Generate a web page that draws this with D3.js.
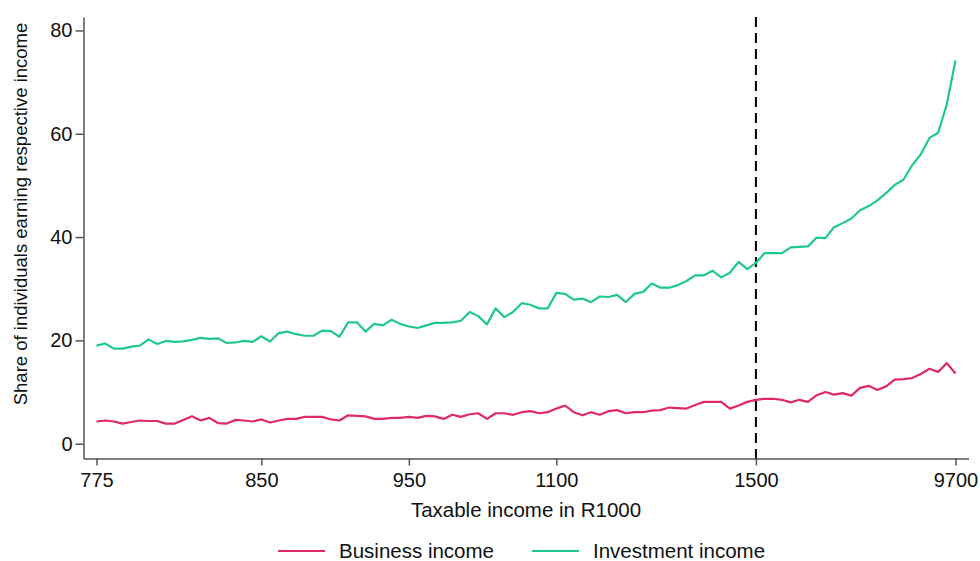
<!DOCTYPE html>
<html>
<head>
<meta charset="utf-8">
<script src="https://cdn.jsdelivr.net/npm/d3@7"></script>
<style>
  body { margin: 0; background: #fff; }
  text { font-family: "Liberation Sans", Arial, sans-serif; fill: #111; }
</style>
</head>
<body>
<div class="myChart"></div>
<script>
// 100 income bins
var business = [4.3,4.5,4.3,3.9,4.2,4.5,4.4,4.4,3.9,3.9,
                4.6,5.3,4.5,5.0,4.0,3.9,4.6,4.5,4.3,4.7,
                4.1,4.5,4.8,4.8,5.2,5.2,5.2,4.7,4.5,5.5,
                5.4,5.3,4.8,4.8,5.0,5.0,5.2,5.0,5.4,5.3,
                4.8,5.6,5.2,5.7,5.9,4.8,5.9,5.9,5.6,6.1,
                6.3,5.9,6.1,6.8,7.4,6.1,5.5,6.1,5.6,6.3,
                6.5,5.9,6.1,6.1,6.4,6.5,7.0,6.9,6.8,7.5,
                8.1,8.1,8.1,6.8,7.4,8.1,8.5,8.7,8.7,8.5,
                8.0,8.5,8.1,9.4,10.0,9.5,9.8,9.3,10.8,11.2,
                10.4,11.1,12.4,12.5,12.7,13.5,14.5,13.9,15.6,13.6];

var investment = [19.0,19.4,18.4,18.4,18.8,19.0,20.2,19.3,19.9,19.7,
                  19.8,20.1,20.5,20.3,20.4,19.5,19.6,19.9,19.7,20.8,
                  19.8,21.4,21.7,21.2,20.9,20.9,21.9,21.8,20.7,23.5,
                  23.5,21.7,23.2,22.9,24.0,23.2,22.7,22.4,22.9,23.4,
                  23.4,23.5,23.8,25.5,24.7,23.1,26.2,24.5,25.5,27.2,
                  26.9,26.2,26.2,29.2,29.0,27.9,28.1,27.4,28.5,28.4,
                  28.8,27.4,29.0,29.4,31.0,30.2,30.2,30.7,31.5,32.6,
                  32.6,33.5,32.2,33.1,35.2,33.8,35.0,36.9,36.9,36.9,
                  38.0,38.1,38.2,39.9,39.8,41.9,42.7,43.6,45.2,46.0,
                  47.1,48.5,50.1,51.1,53.9,56.0,59.2,60.2,65.7,74.2];

var tickBins = [0, 19, 36, 53, 76, 99];
var tickLabels = ["775", "850", "950", "1100", "1500", "9700"];
var yTicks = [0, 20, 40, 60, 80];
var cutoffBin = 76;

var seriesNames = ["Business income", "Investment income"];
var seriesColors = ["#e0286e", "#20c98b"];

var width = 980, height = 561;

var svg = d3.select(".myChart").append("svg").attr("width", width).attr("height", height);

var x = d3.scaleLinear().domain([-1.5, 100.5]).range([83.5, 968.5]);
var y = d3.scaleLinear().domain([-2.86, 82.6]).range([458.5, 17]);

// axes
var xAxis = svg.append("g").attr("transform", "translate(0,458.5)")
    .call(d3.axisBottom(x).tickValues(tickBins).tickSizeInner(7).tickSizeOuter(0)
      .tickFormat(function(d, i) { return tickLabels[i]; }));
var yAxis = svg.append("g").attr("transform", "translate(83.5,0)")
    .call(d3.axisLeft(y).tickValues(yTicks).tickSizeInner(8).tickSizeOuter(0));

[xAxis, yAxis].forEach(function(a) {
  a.select(".domain").attr("stroke", "#555").attr("stroke-width", 1.5);
  a.selectAll(".tick line").attr("stroke", "#555").attr("stroke-width", 1.5);
  a.selectAll(".tick text").attr("font-size", 20).attr("fill", "#111")
    .style("font-family", "'Liberation Sans', Arial, sans-serif");
});
xAxis.selectAll(".tick text").attr("dy", "0.95em").attr("y", 9);
yAxis.selectAll(".tick text").attr("x", -11);

// cutoff line
svg.append("line")
   .attr("x1", x(cutoffBin)).attr("x2", x(cutoffBin))
   .attr("y1", y.range()[1]).attr("y2", y.range()[0])
   .attr("stroke", "#000").attr("stroke-width", 2).attr("stroke-dasharray", "10,6");

// series lines
var line = d3.line().x(function(d, i) { return x(i); }).y(function(d) { return y(d); });

[business, investment].forEach(function(s, k) {
  svg.append("path").datum(s)
     .attr("fill", "none").attr("stroke", seriesColors[k]).attr("stroke-width", 2.2)
     .attr("stroke-linejoin", "round").attr("d", line);
});

// titles
svg.append("text").attr("x", 526).attr("y", 517).attr("text-anchor", "middle")
   .attr("font-size", 20.5).text("Taxable income in R1000");

svg.append("text").attr("transform", "translate(21,214) rotate(-90)")
   .attr("text-anchor", "middle").attr("dy", "0.35em").attr("font-size", 18.5)
   .text("Share of individuals earning respective income");

// legend
var legendX = [278, 532];
var legend = svg.selectAll(".legend").data(seriesNames).enter().append("g")
    .attr("transform", function(d, i) { return "translate(" + legendX[i] + ",551)"; });
legend.append("line").attr("x1", 0).attr("x2", 47).attr("y1", 0).attr("y2", 0)
      .attr("stroke", function(d, i) { return seriesColors[i]; }).attr("stroke-width", 2);
legend.append("text").attr("x", 61).attr("dy", "0.35em").attr("font-size", 20.5)
      .text(function(d) { return d; });
</script>
</body>
</html>
